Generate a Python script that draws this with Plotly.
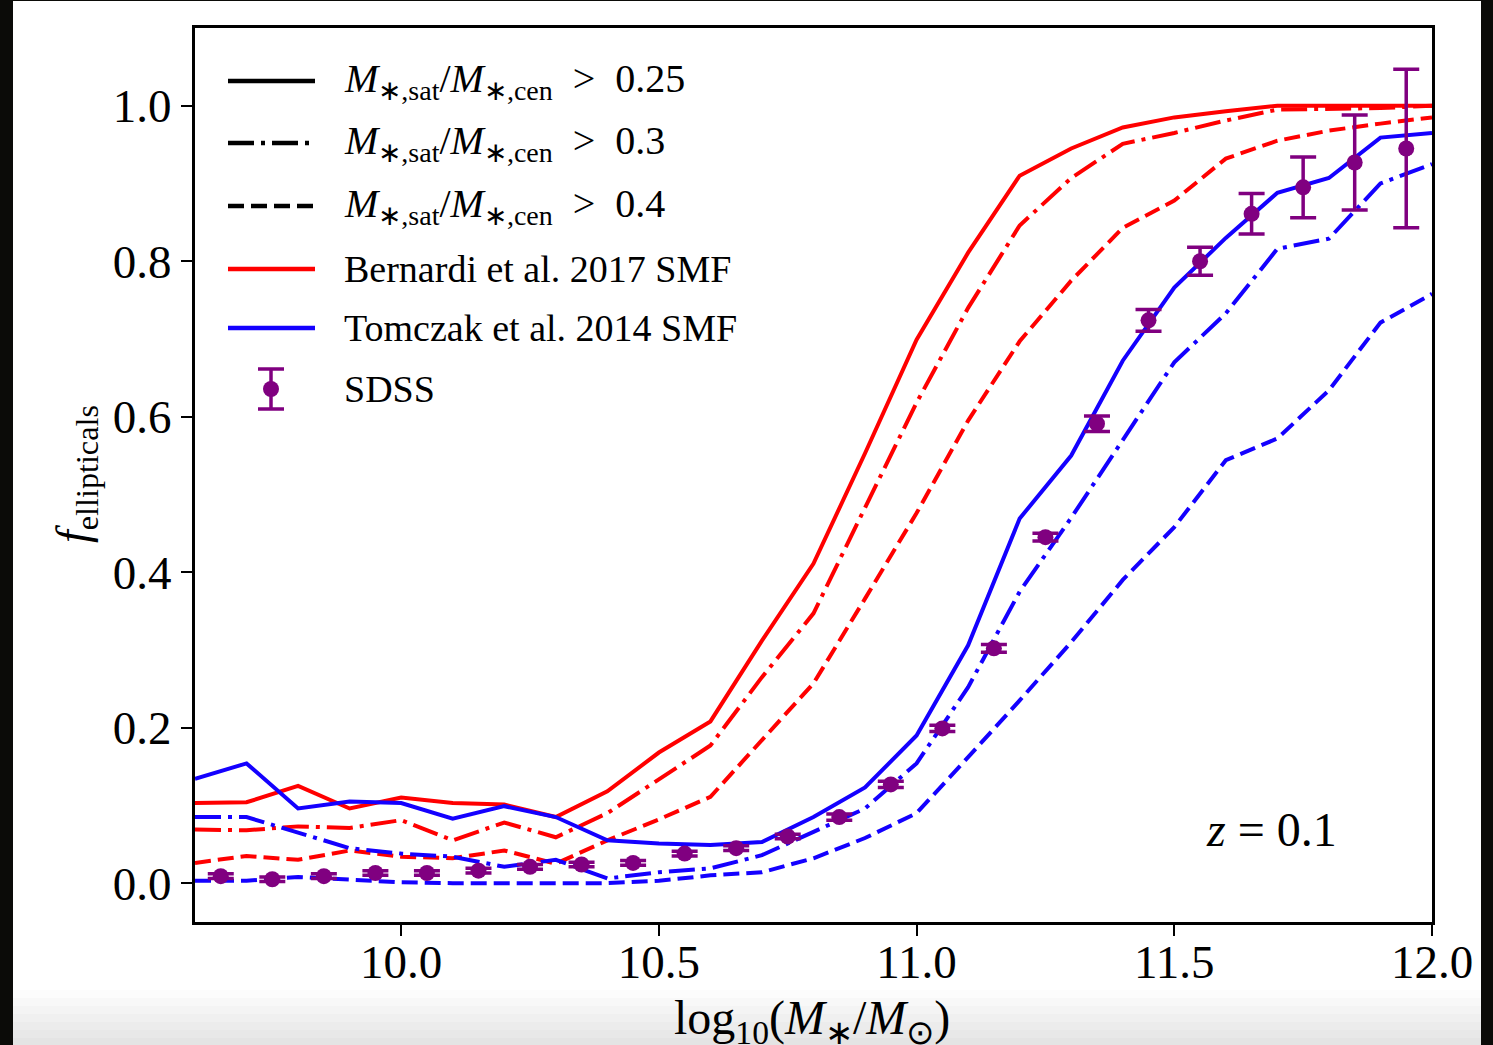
import plotly.graph_objects as go

# ---------------- data ----------------
log_mass = [9.6, 9.7, 9.8, 9.9, 10.0, 10.1, 10.2, 10.3, 10.4, 10.5, 10.6, 10.7, 10.8,
            10.9, 11.0, 11.1, 11.2, 11.3, 11.4, 11.5, 11.6, 11.7, 11.8, 11.9, 12.0]

bernardi_025 = [0.103, 0.104, 0.125, 0.096, 0.110, 0.103, 0.101, 0.085, 0.118, 0.168, 0.208, 0.312, 0.411,
                0.553, 0.699, 0.811, 0.910, 0.945, 0.972, 0.985, 0.993, 1.000, 1.000, 1.000, 1.000]
bernardi_03 = [0.069, 0.068, 0.073, 0.071, 0.081, 0.055, 0.078, 0.059, 0.090, 0.134, 0.177, 0.265, 0.347,
               0.483, 0.618, 0.740, 0.846, 0.907, 0.951, 0.965, 0.981, 0.995, 0.996, 0.997, 1.000]
bernardi_04 = [0.026, 0.035, 0.030, 0.042, 0.034, 0.032, 0.042, 0.025, 0.055, 0.082, 0.111, 0.184, 0.257,
               0.366, 0.476, 0.595, 0.697, 0.775, 0.843, 0.878, 0.932, 0.955, 0.968, 0.977, 0.985]

tomczak_025 = [0.134, 0.154, 0.096, 0.105, 0.103, 0.083, 0.099, 0.085, 0.055, 0.051, 0.049, 0.053, 0.085,
               0.123, 0.190, 0.306, 0.469, 0.550, 0.672, 0.766, 0.830, 0.888, 0.907, 0.959, 0.965]
tomczak_03 = [0.085, 0.085, 0.065, 0.045, 0.038, 0.034, 0.021, 0.030, 0.006, 0.014, 0.019, 0.036, 0.066,
              0.096, 0.154, 0.252, 0.375, 0.470, 0.570, 0.670, 0.733, 0.816, 0.829, 0.900, 0.925]
tomczak_04 = [0.003, 0.003, 0.008, 0.004, 0.001, 0.000, 0.000, 0.000, 0.000, 0.003, 0.010, 0.014, 0.032,
              0.058, 0.090, 0.162, 0.235, 0.310, 0.390, 0.458, 0.544, 0.572, 0.634, 0.721, 0.758]

sdss_mass = [9.65, 9.75, 9.85, 9.95, 10.05, 10.15, 10.25, 10.35, 10.45, 10.55, 10.65, 10.75,
             10.85, 10.95, 11.05, 11.15, 11.25, 11.35, 11.45, 11.55, 11.65, 11.75, 11.85, 11.95]
sdss_frac = [0.009, 0.005, 0.009, 0.013, 0.013, 0.016, 0.021, 0.024, 0.026, 0.038, 0.045, 0.060,
             0.085, 0.127, 0.199, 0.302, 0.445, 0.591, 0.724, 0.800, 0.861, 0.895, 0.927, 0.945]
sdss_err = [0.003, 0.003, 0.003, 0.003, 0.003, 0.003, 0.003, 0.003, 0.003, 0.003, 0.003, 0.003,
            0.004, 0.004, 0.004, 0.005, 0.005, 0.010, 0.014, 0.018, 0.026, 0.039, 0.061, 0.102]

x_ticks = [10.0, 10.5, 11.0, 11.5, 12.0]
x_tick_labels = ["10.0", "10.5", "11.0", "11.5", "12.0"]
y_ticks = [0.0, 0.2, 0.4, 0.6, 0.8, 1.0]
y_tick_labels = ["0.0", "0.2", "0.4", "0.6", "0.8", "1.0"]

SP = "&nbsp;"
ratio = "<i>M</i><sub>∗,sat</sub>/<i>M</i><sub>∗,cen</sub>" + SP + SP + ">" + SP + SP
legend_labels = [
    ratio + "0.25",
    ratio + "0.3",
    ratio + "0.4",
    "Bernardi et al. 2017 SMF",
    "Tomczak et al. 2014 SMF",
    "SDSS",
]
legend_sizes = [40, 40, 40, 38, 38, 38]

# ---------------- style ----------------
W, H = 1493, 1045
L, R, T, B = 195, 1432, 28, 922
FONT = "Liberation Serif"
RED, BLUE, PURPLE = "#ff0000", "#1400ff", "#800080"
LW = 4
SOLID, DASHDOT, DASHED = "solid", "26px,7px,4px,7px", "16px,7px"


def px(xp):
    return (xp - L) / (R - L)


def py(yp):
    return (B - yp) / (B - T)


fig = go.Figure()

for series, dash in [(bernardi_025, SOLID), (bernardi_03, DASHDOT), (bernardi_04, DASHED)]:
    fig.add_trace(go.Scatter(x=log_mass, y=series, mode="lines",
                             line=dict(color=RED, width=LW, dash=dash), showlegend=False))
for series, dash in [(tomczak_025, SOLID), (tomczak_03, DASHDOT), (tomczak_04, DASHED)]:
    fig.add_trace(go.Scatter(x=log_mass, y=series, mode="lines",
                             line=dict(color=BLUE, width=LW, dash=dash), showlegend=False))

fig.add_trace(go.Scatter(x=sdss_mass, y=sdss_frac, mode="markers",
                         marker=dict(color=PURPLE, size=16, line=dict(width=0)),
                         error_y=dict(type="data", array=sdss_err, color=PURPLE,
                                      thickness=3.5, width=13),
                         showlegend=False))

shapes = []
annotations = []

# background of the screenshot: dark side strips and a grey fade at the bottom
shapes.append(dict(type="rect", xref="paper", yref="paper", x0=px(0), x1=px(13), y0=py(W), y1=py(-5),
                   fillcolor="#0b0b08", line=dict(width=0), layer="below"))
shapes.append(dict(type="rect", xref="paper", yref="paper", x0=px(1481), x1=px(W + 5), y0=py(W), y1=py(-5),
                   fillcolor="#0b0b08", line=dict(width=0), layer="below"))
shapes.append(dict(type="rect", xref="paper", yref="paper", x0=px(13), x1=px(1481), y0=py(1), y1=py(-5),
                   fillcolor="#0b0b08", line=dict(width=0), layer="below"))
fade = ["#fcfcfc", "#f8f8f8", "#f4f4f4", "#f0f0f0", "#ececec", "#e8e8e8", "#e4e4e4"]
for i, col in enumerate(fade):
    y0 = 990 + i * 8
    shapes.append(dict(type="rect", xref="paper", yref="paper", x0=px(13), x1=px(1481),
                       y0=py(y0 + 8 if i < len(fade) - 1 else H + 5), y1=py(y0),
                       fillcolor=col, line=dict(width=0), layer="below"))

# manual legend
rows = [81, 143, 206, 269, 328, 389]
styles = [("black", SOLID), ("black", DASHDOT), ("black", DASHED), (RED, SOLID), (BLUE, SOLID)]
for (col, dash), yr in zip(styles, rows[:5]):
    shapes.append(dict(type="line", xref="paper", yref="paper", x0=px(228), x1=px(315),
                       y0=py(yr), y1=py(yr), line=dict(color=col, width=4.5, dash=dash), layer="above"))
# SDSS legend entry: error bar with caps and a dot
ysd = rows[5]
shapes.append(dict(type="line", xref="paper", yref="paper", x0=px(271), x1=px(271),
                   y0=py(ysd - 20), y1=py(ysd + 20), line=dict(color=PURPLE, width=3.5), layer="above"))
for yc in (ysd - 20, ysd + 20):
    shapes.append(dict(type="line", xref="paper", yref="paper", x0=px(258), x1=px(284),
                       y0=py(yc), y1=py(yc), line=dict(color=PURPLE, width=3.5), layer="above"))
shapes.append(dict(type="circle", xref="paper", yref="paper", x0=px(263), x1=px(279),
                   y0=py(ysd + 8), y1=py(ysd - 8), fillcolor=PURPLE, line=dict(width=0), layer="above"))

for lab, yr, fs in zip(legend_labels, rows, legend_sizes):
    annotations.append(dict(text=lab, xref="paper", yref="paper", x=px(342), y=py(yr),
                            xanchor="left", yanchor="middle", showarrow=False,
                            font=dict(family=FONT, size=fs, color="black")))

# redshift label
annotations.append(dict(text="<i>z</i>" + SP + "=" + SP + "0.1", xref="paper", yref="paper",
                        x=px(1271), y=py(829), xanchor="center", yanchor="middle", showarrow=False,
                        font=dict(family=FONT, size=48, color="black")))

# axis titles
annotations.append(dict(text="log<sub>10</sub>(<i>M</i><sub>∗</sub>/<i>M</i><sub>⊙</sub>)",
                        xref="paper", yref="paper", x=px(812), y=py(1021),
                        xanchor="center", yanchor="middle", showarrow=False,
                        font=dict(family=FONT, size=48, color="black")))
annotations.append(dict(text="<i>f</i><sub>ellipticals</sub>", textangle=-90,
                        xref="paper", yref="paper", x=px(76), y=py(474),
                        xanchor="center", yanchor="middle", showarrow=False,
                        font=dict(family=FONT, size=46, color="black")))

fig.update_layout(
    width=W, height=H, autosize=False,
    margin=dict(l=L, r=W - R, t=T, b=H - B, pad=0),
    paper_bgcolor="white", plot_bgcolor="white",
    font=dict(family=FONT, color="black"),
    shapes=shapes, annotations=annotations,
    showlegend=False,
)
fig.update_xaxes(range=[9.6, 12.0], tickmode="array", tickvals=x_ticks, ticktext=x_tick_labels,
                 ticks="outside", ticklen=11, tickwidth=2, tickcolor="black",
                 showline=True, linewidth=3, linecolor="black", mirror=True,
                 showgrid=False, zeroline=False, ticklabelstandoff=-14,
                 tickfont=dict(family=FONT, size=47, color="black"))
fig.update_yaxes(range=[-0.05, 1.1], tickmode="array", tickvals=y_ticks, ticktext=y_tick_labels,
                 ticks="outside", ticklen=11, tickwidth=2, tickcolor="black",
                 showline=True, linewidth=3, linecolor="black", mirror=True,
                 showgrid=False, zeroline=False, ticklabelstandoff=0,
                 tickfont=dict(family=FONT, size=47, color="black"))

fig.write_html("out.html")
